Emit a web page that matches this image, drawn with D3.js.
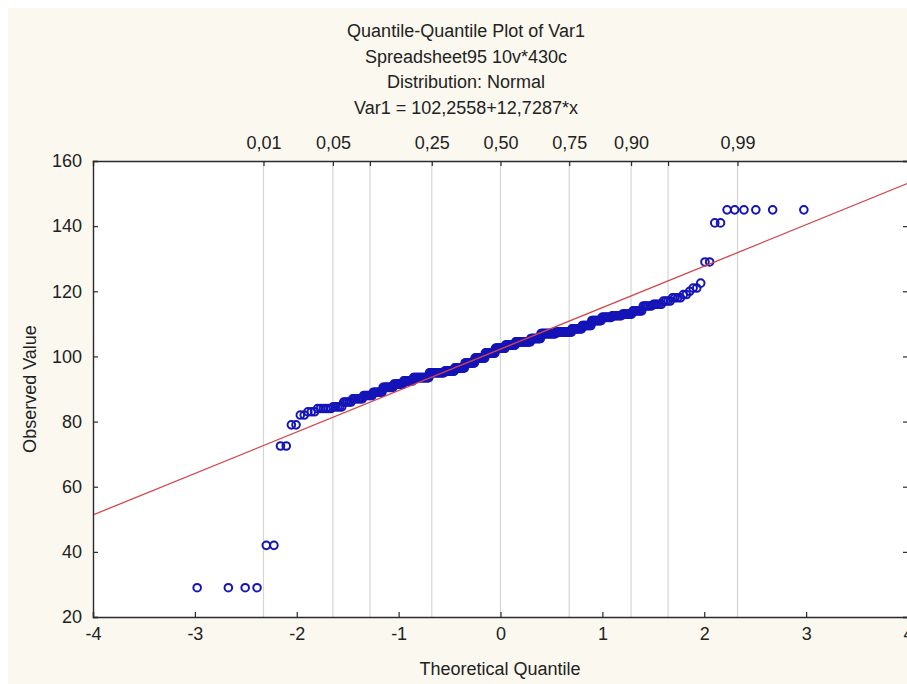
<!DOCTYPE html>
<html>
<head>
<meta charset="utf-8">
<script src="https://cdn.jsdelivr.net/npm/d3@7"></script>
<style>
  html, body { margin: 0; padding: 0; background: #ffffff; }
  svg { display: block; }
  text { font-family: "Liberation Sans", Arial, sans-serif; fill: #222; }
</style>
</head>
<body>
<svg id="chart" width="907" height="684"></svg>
<script>
// Chart titles
const titleLines = [
  "Quantile-Quantile Plot of Var1",
  "Spreadsheet95 10v*430c",
  "Distribution: Normal",
  "Var1 = 102,2558+12,7287*x"
];

// Fitted line: Var1 = intercept + slope * x
const fitIntercept = 102.2558;
const fitSlope = 12.7287;

// Sorted observed values of Var1 (n = 430) as value / frequency runs
const obsValues = [
  29, 42, 72.5, 79,
  82, 83, 84, 84.5, 86, 87, 88, 89, 90.5, 91.5, 92.5, 93.5,
  95, 95.5, 96.5, 98, 99.5, 101, 102.5, 103.5, 104.5, 105.5,
  107, 107.5, 108.5, 109.5, 111, 112, 112.5, 113, 114, 115.5,
  116, 117, 118, 119, 120, 121, 122.5,
  129, 141, 145
];
const obsCounts = [
  4, 2, 2, 2,
  2, 3, 6, 5, 5, 7, 7, 8, 10, 10, 11, 20,
  21, 15, 16, 16, 17, 17, 17, 17, 25, 16,
  23, 22, 13, 11, 11, 10, 9, 8, 7, 6,
  5, 4, 4, 2, 1, 2, 1,
  2, 2, 6
];

// Axis ticks
const xTicks = [-4, -3, -2, -1, 0, 1, 2, 3, 4];
const yTicks = [20, 40, 60, 80, 100, 120, 140, 160];
const probTicks = [0.01, 0.05, 0.10, 0.25, 0.50, 0.75, 0.90, 0.95, 0.99];
const probLabels = ["0,01", "0,05", "", "0,25", "0,50", "0,75", "0,90", "", "0,99"];

// Inverse standard normal CDF (Acklam's rational approximation)
function normInv(p) {
  const a = [-3.969683028665376e+01, 2.209460984245205e+02, -2.759285104469687e+02,
             1.383577518672690e+02, -3.066479806614716e+01, 2.506628277459239e+00];
  const b = [-5.447609879822406e+01, 1.615858368580409e+02, -1.556989798598866e+02,
             6.680131188771972e+01, -1.328068155288572e+01];
  const c = [-7.784894002430293e-03, -3.223964580411365e-01, -2.400758277161838e+00,
             -2.549732539343734e+00, 4.374664141464968e+00, 2.938163982698783e+00];
  const d = [7.784695709041462e-03, 3.224671290700398e-01, 2.445134137142996e+00,
             3.754408661907416e+00];
  const pl = 0.02425, ph = 1 - pl;
  let q, r;
  if (p < pl) {
    q = Math.sqrt(-2 * Math.log(p));
    return (((((c[0]*q+c[1])*q+c[2])*q+c[3])*q+c[4])*q+c[5]) /
           ((((d[0]*q+d[1])*q+d[2])*q+d[3])*q+1);
  }
  if (p <= ph) {
    q = p - 0.5; r = q * q;
    return (((((a[0]*r+a[1])*r+a[2])*r+a[3])*r+a[4])*r+a[5])*q /
           (((((b[0]*r+b[1])*r+b[2])*r+b[3])*r+b[4])*r+1);
  }
  q = Math.sqrt(-2 * Math.log(1 - p));
  return -(((((c[0]*q+c[1])*q+c[2])*q+c[3])*q+c[4])*q+c[5]) /
          ((((d[0]*q+d[1])*q+d[2])*q+d[3])*q+1);
}

// Expand runs into the sorted sample and pair each value with its normal quantile (Blom)
const sample = [];
obsValues.forEach((v, k) => { for (let j = 0; j < obsCounts[k]; j++) sample.push(v); });
const n = sample.length;
const points = sample.map((v, i) => ({ q: normInv((i + 1 - 0.375) / (n + 0.25)), v }));

const svg = d3.select("#chart");
const W = 907, H = 684;
const plot = { left: 93, top: 161, right: 908, bottom: 617 };

// Page background
svg.append("rect").attr("width", W).attr("height", H).attr("fill", "#ffffff");
svg.append("rect").attr("x", 8).attr("y", 8).attr("width", W - 8).attr("height", H - 8)
  .attr("fill", "#fbf8ef");

const x = d3.scaleLinear().domain([-4, 4]).range([plot.left, plot.right]);
const y = d3.scaleLinear().domain([20, 160]).range([plot.bottom, plot.top]);

// Plot area
svg.append("rect")
  .attr("x", plot.left).attr("y", plot.top)
  .attr("width", plot.right - plot.left).attr("height", plot.bottom - plot.top)
  .attr("fill", "#ffffff");

svg.append("clipPath").attr("id", "plotClip")
  .append("rect")
  .attr("x", plot.left).attr("y", plot.top)
  .attr("width", plot.right - plot.left).attr("height", plot.bottom - plot.top);

// Probability grid lines
svg.append("g").selectAll("line").data(probTicks).join("line")
  .attr("x1", p => x(normInv(p))).attr("x2", p => x(normInv(p)))
  .attr("y1", plot.top).attr("y2", plot.bottom)
  .attr("stroke", "#d4d4d4").attr("stroke-width", 1.2);

const inner = svg.append("g").attr("clip-path", "url(#plotClip)");

// Observed points
inner.append("g").selectAll("circle").data(points).join("circle")
  .attr("cx", d => x(d.q)).attr("cy", d => y(d.v)).attr("r", 3.8)
  .attr("fill", "none").attr("stroke", "#1414b8").attr("stroke-width", 2);

// Fitted normal line
inner.append("line")
  .attr("x1", x(-4)).attr("y1", y(fitIntercept + fitSlope * -4))
  .attr("x2", x(4)).attr("y2", y(fitIntercept + fitSlope * 4))
  .attr("stroke", "#d2454c").attr("stroke-width", 1.3);

// Axes
const tickLen = 5;
const axisColor = "#2a2a2a";
const fontSize = 18;

const bottomAxis = d3.axisBottom(x).tickValues(xTicks).tickSize(-tickLen).tickPadding(10)
  .tickFormat(d => d3.format("d")(d).replace("−", "-"));
const gB = svg.append("g").attr("transform", `translate(0,${plot.bottom})`).call(bottomAxis);

const leftAxis = d3.axisLeft(y).tickValues(yTicks).tickSize(-tickLen).tickPadding(11);
const gL = svg.append("g").attr("transform", `translate(${plot.left},0)`).call(leftAxis);

const rightAxis = d3.axisRight(y).tickValues(yTicks).tickSize(-tickLen).tickFormat("");
const gR = svg.append("g").attr("transform", `translate(${plot.right},0)`).call(rightAxis);

const topAxis = d3.axisTop(x).tickValues(probTicks.map(normInv)).tickSize(-tickLen).tickPadding(12)
  .tickFormat((d, i) => probLabels[i]);
const gT = svg.append("g").attr("transform", `translate(0,${plot.top})`).call(topAxis);

[gB, gL, gR, gT].forEach(g => {
  g.select(".domain").attr("stroke", axisColor).attr("stroke-width", 1.4);
  g.selectAll(".tick line").attr("stroke", axisColor).attr("stroke-width", 1.2);
  g.selectAll(".tick text").attr("font-size", fontSize)
    .attr("font-family", "'Liberation Sans', Arial, sans-serif").attr("fill", "#222");
});

// Titles
svg.append("g").selectAll("text").data(titleLines).join("text")
  .attr("x", 466).attr("y", (d, i) => 37 + i * 25.6)
  .attr("text-anchor", "middle").attr("font-size", fontSize)
  .text(d => d);

// Axis titles
svg.append("text")
  .attr("x", 500).attr("y", 675).attr("text-anchor", "middle").attr("font-size", fontSize)
  .text("Theoretical Quantile");
svg.append("text")
  .attr("transform", "translate(36,389) rotate(-90)").attr("text-anchor", "middle")
  .attr("font-size", fontSize)
  .text("Observed Value");
</script>
</body>
</html>
